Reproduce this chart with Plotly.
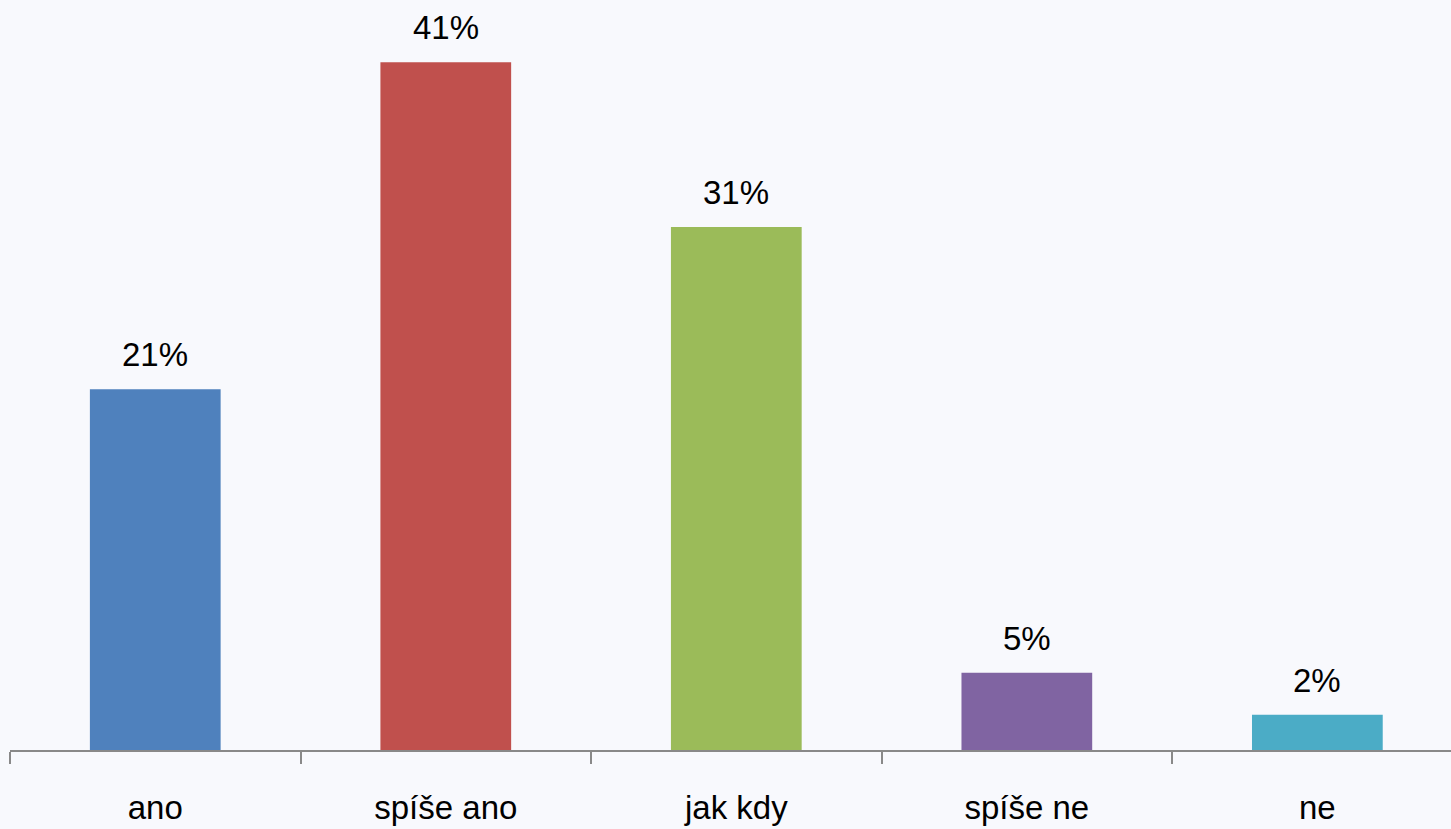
import plotly.graph_objects as go

categories = ["ano", "spíše ano", "jak kdy", "spíše ne", "ne"]
values = [0.2145, 0.409, 0.311, 0.046, 0.021]
colors = ["#4F81BD", "#C0504D", "#9BBB59", "#8064A2", "#4BACC6"]

FONT = "Liberation Sans, Arial, sans-serif"
FSIZE = 33

fig = go.Figure()
fig.add_trace(go.Bar(
    x=categories, y=values, marker=dict(color=colors, line=dict(width=0)),
    width=0.45, showlegend=False, hoverinfo="skip",
))

for c, v in zip(categories, values):
    fig.add_annotation(
        x=c, y=v, text=f"{round(v * 100)}%", showarrow=False,
        yanchor="bottom", yshift=14,
        font=dict(family=FONT, size=FSIZE, color="#000000"),
    )

fig.update_layout(
    width=1451, height=829,
    margin=dict(l=10, r=0, t=0, b=79),
    paper_bgcolor="#F8F9FD", plot_bgcolor="#F8F9FD",
    xaxis=dict(
        range=[-0.5, 4.46], type="category",
        showline=True, linecolor="#898989", linewidth=2,
        ticks="outside", tickson="boundaries", ticklen=12, tickwidth=2, tickcolor="#898989",
        tickfont=dict(family=FONT, size=FSIZE, color="#000000"),
        ticklabelstandoff=27,
        showgrid=False, zeroline=False,
    ),
    yaxis=dict(
        range=[0, 0.446], visible=False, showgrid=False, zeroline=False,
    ),
)

fig.write_html(
    "out.html",
    config={"displayModeBar": False, "staticPlot": True},
    post_script="document.body.style.margin='0';document.body.style.padding='0';"
                "document.body.style.background='#F8F9FD';",
)
